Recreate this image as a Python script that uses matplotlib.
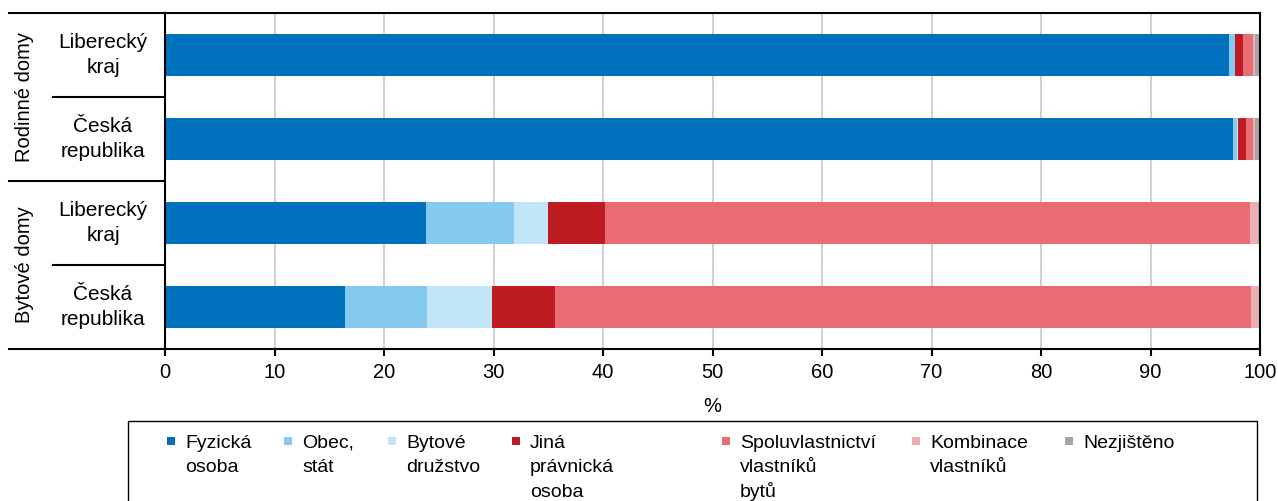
"""Vlastnictví domů - Liberecký kraj vs. Česká republika (stacked bars)."""

import matplotlib
matplotlib.use("Agg")
import matplotlib.pyplot as plt
from matplotlib.patches import Rectangle

plt.rcParams["font.family"] = ["Liberation Sans", "DejaVu Sans"]

# data (%), rows top to bottom
rows = ["Liberecký\nkraj", "Česká\nrepublika", "Liberecký\nkraj", "Česká\nrepublika"]
groups = ["Rodinné domy", "Bytové domy"]

fyzicka = [97.2, 97.5, 23.8, 16.4]
obec = [0.5, 0.4, 8.1, 7.55]
bytove_druzstvo = [0.05, 0.05, 3.05, 5.9]
jina = [0.7, 0.8, 5.25, 5.8]
spoluvlastnictvi = [0.9, 0.65, 58.9, 63.55]
kombinace = [0.15, 0.15, 0.75, 0.7]
nezjisteno = [0.5, 0.45, 0.15, 0.1]

series_labels = [
    "Fyzická\nosoba", "Obec,\nstát", "Bytové\ndružstvo", "Jiná\nprávnická\nosoba",
    "Spoluvlastnictví\nvlastníků\nbytů", "Kombinace\nvlastníků", "Nezjištěno",
]
colors = ["#0071BC", "#86CAF0", "#C2E4F7", "#BE1B22", "#E96B73", "#EBB0B5", "#A6A6A6"]

FS = 14.5
W, H = 1278, 501
# legend column positions (pixels from the left edge)
LEGEND_X = [167, 284, 388, 512, 722, 912, 1065]

fig = plt.figure(figsize=(W / 100, H / 100), dpi=100)
ax = fig.add_axes([165 / W, 1 - 349 / H, 1095 / W, 336 / H])

series = [fyzicka, obec, bytove_druzstvo, jina, spoluvlastnictvi, kombinace, nezjisteno]
ypos = list(range(len(rows)))
left = [0.0] * len(rows)
for vals, col in zip(series, colors):
    ax.barh(ypos, vals, left=left, height=0.5, color=col, zorder=2)
    left = [a + b for a, b in zip(left, vals)]

ax.set_xlim(0, 100)
ax.set_ylim(3.5, -0.5)
ax.set_xticks(range(0, 101, 10))
ax.set_yticks([])
ax.tick_params(axis="x", labelsize=FS, length=5, width=1.5, pad=5)
ax.xaxis.grid(True, color="#CCCCCC", linewidth=1.3, zorder=0)
ax.set_axisbelow(True)
ax.set_xlabel("%", fontsize=FS, labelpad=11)
for s in ax.spines.values():
    s.set_linewidth(1.5)

# left-hand category table
tr = ax.get_yaxis_transform()
x_outer = (9 - 165) / 1095
x_inner = (53 - 165) / 1095
for y in (-0.5, 1.5, 3.5):
    ax.plot([x_outer, 0], [y, y], color="black", lw=1.5, transform=tr, clip_on=False)
for y in (0.5, 2.5):
    ax.plot([x_inner, 0], [y, y], color="black", lw=1.5, transform=tr, clip_on=False)
for y, lab in zip(ypos, rows):
    ax.text((103 - 165) / 1095, y, lab, transform=tr, ha="center", va="center",
            fontsize=15, linespacing=1.35)
for y, lab in zip((0.5, 2.5), groups):
    ax.text((25 - 165) / 1095, y, lab, transform=tr, ha="center", va="center",
            fontsize=FS, rotation=90)

# legend, drawn by hand so that markers sit on the first text line
fig.add_artist(Rectangle((128 / W, -0.05), 1129 / W, 0.05 + 1 - 421 / H,
                         transform=fig.transFigure, fill=False, edgecolor="black",
                         linewidth=1.0))
for x, lab, col in zip(LEGEND_X, series_labels, colors):
    fig.add_artist(Rectangle((x / W, 1 - 445 / H), 8 / W, 8 / H,
                             transform=fig.transFigure, facecolor=col, edgecolor="none"))
    for i, line in enumerate(lab.split("\n")):
        fig.text((x + 18) / W, 1 - (448 + 24.5 * i) / H, line, ha="left",
                 va="baseline", fontsize=14)

fig.savefig("out.png", dpi=100)
